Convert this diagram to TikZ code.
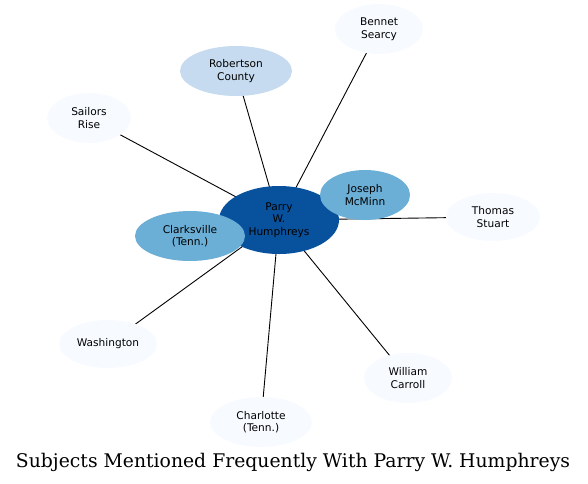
\documentclass[tikz,border=0pt]{standalone}
\usepackage{fontspec}
\setmainfont{DejaVu Sans}
\newfontfamily\titlefont{DejaVu Serif}
\usetikzlibrary{shapes.geometric,backgrounds}
\definecolor{cDark}{HTML}{08519C}
\definecolor{cMid}{HTML}{6BAED6}
\definecolor{cLight}{HTML}{C6DBEF}
\definecolor{cPale}{HTML}{F7FBFF}
\tikzset{
  ent/.style={ellipse, inner sep=0pt, align=center, text=black,
    font=\fontsize{10.6}{12.5}\selectfont},
  edge/.style={draw=black, line width=0.9pt},
}
\begin{document}
\begin{tikzpicture}[x=1pt,y=-1pt]
\useasboundingbox (0,0) rectangle (588,483);
\node[ent, fill=cPale, minimum width=88pt, minimum height=50pt] (bennet) at (379,29) {Bennet\\Searcy};
\node[ent, fill=cLight, minimum width=112pt, minimum height=50pt] (robertson) at (236,71) {Robertson\\County};
\node[ent, fill=cPale, minimum width=84pt, minimum height=50pt] (sailors) at (89,118) {Sailors\\Rise};
\node[ent, fill=cPale, minimum width=94pt, minimum height=48pt] (thomas) at (493,217) {Thomas\\Stuart};
\node[ent, fill=cPale, minimum width=98pt, minimum height=48pt] (washington) at (108,344) {Washington};
\node[ent, fill=cPale, minimum width=88pt, minimum height=50pt] (william) at (408,378) {William\\Carroll};
\node[ent, fill=cPale, minimum width=102pt, minimum height=50pt] (charlotte) at (261,422) {Charlotte\\(Tenn.)};
\node[ent, fill=cDark, minimum width=120pt, minimum height=68pt] (parry) at (279,220) {Parry\\W.\\Humphreys};
\node[ent, fill=cMid, minimum width=110pt, minimum height=50pt] (clarks) at (190,236) {Clarksville\\(Tenn.)};
\node[ent, fill=cMid, minimum width=90pt, minimum height=50pt] (joseph) at (365,195) {Joseph\\McMinn};
\begin{scope}[on background layer]
\foreach \t in {bennet,robertson,sailors,thomas,washington,william,charlotte,clarks,joseph}
  \draw[edge] (parry.center) -- (\t.center);
\end{scope}
\node[anchor=base, font=\titlefont\fontsize{18.8}{22}\selectfont] (title) at (293,467) {Subjects Mentioned Frequently With Parry W. Humphreys};
\end{tikzpicture}
\end{document}
